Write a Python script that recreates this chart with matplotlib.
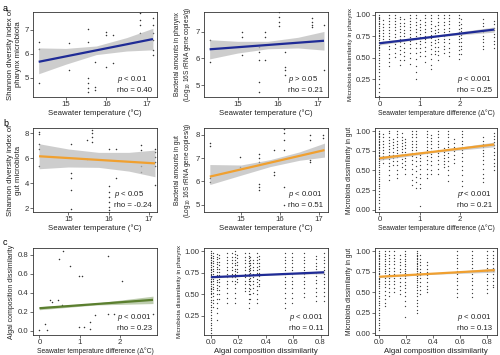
import numpy as np
import matplotlib
matplotlib.use('Agg')
import matplotlib.pyplot as plt

plt.rcParams['font.family'] = ['Liberation Sans', 'DejaVu Sans']
plt.rcParams['mathtext.fontset'] = 'custom'
plt.rcParams['mathtext.rm'] = 'Liberation Sans'
plt.rcParams['mathtext.it'] = 'Liberation Sans:italic'

BLUE = '#1f2b96'
ORANGE = '#f0a030'
GREEN = '#5b7f2f'

# ---- a: pharynx ----
a1_temp = [14.33, 14.33, 14.33, 15.07, 15.07, 15.54, 15.54, 15.54, 15.54, 15.54, 15.54,
           15.72, 15.72, 15.72, 16.0, 16.0, 16.0, 16.17, 16.17, 16.83, 16.83, 16.83, 16.83,
           17.15, 17.15, 17.15, 17.15, 17.15, 17.15]
a1_shannon = [6.51, 6.2, 4.78, 6.44, 5.33, 7.03, 6.51, 4.99, 4.78, 4.57, 4.39,
              5.68, 4.61, 4.5, 6.93, 6.79, 5.47, 6.8, 5.6, 7.7, 7.42, 7.2, 6.86,
              7.49, 7.2, 6.86, 6.58, 6.17, 5.96]
a1_fit_x = [14.33, 17.15]
a1_fit_y = [5.67, 6.62]
a1_band_x = [14.33, 15.0, 15.75, 16.5, 17.15]
a1_band_lo = [5.17, 5.57, 5.97, 6.12, 6.17]
a1_band_hi = [6.25, 6.23, 6.33, 6.68, 7.07]

a2_temp = [14.31, 14.31, 15.1, 15.1, 15.1, 15.53, 15.53, 15.53, 15.53, 15.53, 15.68, 15.68,
           15.68, 16.02, 16.02, 16.02, 16.02, 16.18, 16.18, 16.18, 16.18, 16.85, 16.85, 16.85,
           16.85, 17.15, 17.15]
a2_bact = [6.69, 5.88, 7.0, 6.81, 6.13, 6.44, 6.25, 5.94, 5.13, 4.75, 7.0, 6.81,
           5.94, 7.75, 7.56, 7.38, 7.21, 6.25, 5.69, 5.56, 5.38, 7.5, 7.38, 7.25,
           7.19, 7.25, 5.56]
a2_fit_x = [14.3, 17.15]
a2_fit_y = [6.34, 6.66]
a2_band_x = [14.3, 15.0, 15.75, 16.5, 17.15]
a2_band_lo = [5.98, 6.20, 6.36, 6.39, 6.31]
a2_band_hi = [6.70, 6.64, 6.64, 6.79, 7.01]

a3_diff = [0.0, 0.1, 0.23, 0.39, 0.52, 0.62, 0.77, 0.92, 1.02, 1.14, 1.27, 1.37, 1.45,
           1.6, 1.73, 1.98, 2.03, 2.56, 2.85]
a3_dissim = [
    [1.0, .98, .97, .95, .93, .91, .89, .87, .85, .83, .81, .79, .77, .75, .73, .71, .69, .67,
     .65, .63, .61, .59, .56, .53, .5, .47, .44, .41, .37, .33, .29, .25, .2, .15, .1, .06],
    [.94, .9, .86, .83, .79, .76, .72, .69],
    [1.0, .97, .93, .9, .86, .83, .79, .75, .72, .68, .64, .6, .55, .5, .45, .41],
    [1.0, .96, .93, .89, .86, .82, .78, .74, .7, .66, .61, .56, .51],
    [.98, .95, .91, .87, .84, .8, .76, .72, .68, .64, .59, .54, .48, .42],
    [.95, .91, .87, .83, .79, .75, .71, .67, .62, .57, .52, .47],
    [1.0, .97, .93, .9, .86, .82, .78, .74, .7, .66, .61, .56, .5, .43],
    [1.0, .96, .92, .88, .84, .8, .76, .72, .67, .62, .56, .49, .41, .33, .25],
    [.94, .9, .86, .82, .78, .74, .7, .66, .62, .57, .52],
    [1.0, .96, .92, .88, .84, .8, .76, .72, .68, .63, .58, .52, .45],
    [1.0, .97, .93, .89, .85, .81, .77, .73, .69, .65, .6, .55, .49, .42, .37],
    [.87, .83, .79, .75, .71, .67, .63, .58, .54],
    [1.0, .96, .92, .88, .84, .8, .76, .72, .68, .63, .58, .53, .48],
    [1.0, .96, .92, .88, .84, .8, .76, .72, .68, .64, .6, .56],
    [1.0, .96, .93, .89, .85, .81, .77, .72, .67, .62, .57, .52],
    [1.0, .96, .92, .88, .84, .8, .76, .72, .68, .64, .59, .54, .49],
    [.95, .9, .85, .81, .77, .73, .69, .64, .6, .55],
    [.95, .91, .87, .83, .8, .76, .72, .68, .64, .6],
    [.93, .89, .85, .82, .78, .74, .7, .66, .62],
]
a3_fit_x = [0.0, 2.85]
a3_fit_y = [0.67, 0.83]
a3_band_x = [0.0, 1.4, 2.85]
a3_band_lo = [0.65, 0.745, 0.80]
a3_band_hi = [0.69, 0.765, 0.86]

# ---- b: gut ----
b1_temp = [14.27, 14.27, 14.27, 14.27, 14.27, 15.07, 15.07, 15.07, 15.07, 15.07, 15.45, 15.45,
           15.58, 15.58, 15.58, 15.58, 16.0, 16.0, 16.0, 16.0, 16.0, 16.0, 16.0, 16.17, 16.17,
           16.8, 16.8, 16.8, 16.8, 17.15, 17.15, 17.15, 17.15, 17.15, 17.15]
b1_shannon = [8.14, 7.92, 7.18, 6.77, 5.4, 7.18, 4.85, 4.44, 3.48, 1.97, 7.45, 5.95,
              8.27, 8.0, 7.73, 7.32, 6.77, 3.75, 3.34, 2.93, 2.52, 2.11, 1.84, 6.77, 4.44,
              7.04, 6.63, 5.4, 4.9, 6.77, 6.5, 6.08, 5.67, 5.4, 3.89]
b1_fit_x = [14.27, 17.15]
b1_fit_y = [6.16, 5.59]
b1_band_x = [14.27, 15.0, 15.75, 16.5, 17.15]
b1_band_lo = [5.16, 5.30, 5.27, 4.97, 4.52]
b1_band_hi = [7.16, 6.74, 6.47, 6.47, 6.66]

b2_temp = [14.2, 14.2, 14.2, 14.2, 14.97, 14.97, 15.46, 15.46, 15.46, 15.46, 15.46, 15.46,
           15.85, 15.85, 15.85, 16.1, 16.1, 16.1, 16.1, 16.1, 16.1, 16.77, 16.77, 16.77, 16.77,
           17.1, 17.1]
b2_bact = [7.64, 7.5, 6.12, 5.98, 7.06, 6.63, 7.16, 6.99, 6.85, 5.9, 5.76, 5.62,
           7.35, 6.41, 6.27, 8.25, 8.07, 7.78, 7.35, 5.76, 4.97, 8.0, 7.78, 6.92, 6.85,
           8.0, 7.86]
b2_fit_x = [14.2, 17.15]
b2_fit_y = [6.2, 7.34]
b2_band_x = [14.2, 15.0, 15.75, 16.5, 17.15]
b2_band_lo = [5.86, 6.26, 6.63, 6.90, 7.04]
b2_band_hi = [6.72, 6.70, 6.93, 7.26, 7.64]

b3_diff = [0.0, 0.1, 0.23, 0.33, 0.43, 0.56, 0.64, 0.81, 0.92, 1.0, 1.17, 1.27, 1.45,
           1.6, 1.7, 1.85, 2.05, 2.56, 2.85]
b3_dissim = [
    [1.0, .98, .96, .94, .92, .9, .88, .86, .84, .82, .8, .78, .76, .74, .72, .7, .68, .66, .64,
     .62, .6, .57, .54, .51, .48, .45, .42, .39, .36, .33, .3, .27, .24, .2, .16, .12, .08, .04, .01],
    [.96, .92, .88, .84, .8, .76, .72, .68, .64, .6],
    [1.0, .97, .93, .89, .85, .81, .77, .73, .69, .65, .6, .55, .5, .44, .38],
    [.9, .86, .82, .78, .74, .7, .66, .62, .57],
    [1.0, .96, .92, .88, .84, .8, .76, .72, .67, .62, .57, .51, .45, .4],
    [.97, .93, .89, .85, .81, .77, .73, .69, .64, .59, .54],
    [.9, .86, .82, .78, .74, .7, .66, .62, .57, .52, .46],
    [1.0, .96, .92, .88, .84, .8, .76, .72, .68, .63, .58, .52, .45, .38, .31],
    [1.0, .96, .92, .88, .84, .8, .76, .72, .67, .62, .56, .49, .42, .35, .28],
    [.7, .66, .62, .57, .52, .46, .4, .33, .27, .05],
    [1.0, .96, .92, .88, .84, .8, .76, .72, .68, .63, .58, .52, .46, .4],
    [.95, .91, .87, .83, .79, .75, .71, .67, .62, .57, .51, .45],
    [1.0, .96, .92, .88, .84, .8, .76, .72, .68, .63, .58, .52, .46],
    [.78, .74, .7, .66, .62, .58, .54],
    [1.0, .96, .92, .88, .84, .8, .76, .72, .67, .62, .56, .5, .44, .37],
    [.9, .85, .8, .75, .7, .65, .6],
    [1.0, .96, .92, .88, .84, .8, .76, .72, .67, .62, .56, .5, .44, .37, .3, .23],
    [.92, .88, .84, .8, .76, .72, .68, .63, .58, .52, .46, .4, .35],
    [.98, .94, .9, .86, .82, .78, .74, .7, .65, .6, .55, .5],
]
b3_fit_x = [0.0, 2.85]
b3_fit_y = [0.655, 0.83]
b3_band_x = [0.0, 1.4, 2.85]
b3_band_lo = [0.63, 0.73, 0.80]
b3_band_hi = [0.68, 0.755, 0.86]

# ---- c: algae ----
c1_diff = [0.6, 1.72, 0.77, 2.06, 0.98, 1.06, 0.27, 0.31, 0.47, 0.56, 0.0, 0.18, 0.14,
           0.98, 1.1, 1.25, 1.27, 1.39, 1.7, 1.85, 2.83, 0.5]
c1_algae = [0.835, 0.79, 0.68, 0.525, 0.57, 0.57, 0.32, 0.30, 0.32, 0.27, 0.007, 0.007, 0.07,
            0.04, 0.04, 0.095, 0.015, 0.165, 0.176, 0.176, 0.176, 0.754]
c1_fit_x = [0.0, 2.83]
c1_fit_y = [0.236, 0.324]
c1_band_x = [0.0, 1.4, 2.83]
c1_band_lo = [0.22, 0.27, 0.285]
c1_band_hi = [0.252, 0.29, 0.363]

c2_algae = [0.0, 0.017, 0.042, 0.059, 0.115, 0.152, 0.176, 0.189, 0.25, 0.275, 0.287, 0.304,
            0.336, 0.348, 0.544, 0.593, 0.679, 0.765, 0.826]
c2_dissim = [
    [1.0, .98, .96, .94, .92, .9, .88, .86, .84, .82, .8, .78, .76, .74, .72, .7, .68, .66, .64, .62,
     .6, .58, .56, .54, .52, .5, .47, .44, .41, .38, .35, .32, .29, .26, .23, .2, .17, .14, .11, .08, .05],
    [.98, .95, .92, .89, .86, .83, .8, .77, .74, .71, .68, .65, .62, .59, .56, .52, .48, .44, .4, .35],
    [.97, .94, .91, .88, .85, .82, .79, .76, .73, .7, .67, .64, .61, .58, .55, .5, .45, .4, .34, .28, .2],
    [.96, .92, .88, .84, .8, .76, .72, .68, .64, .6, .55, .5, .45],
    [.98, .94, .9, .86, .82, .78, .74, .7, .66, .62, .57, .52, .46, .4],
    [.98, .94, .9, .86, .82, .78, .74, .7, .66],
    [1.0, .97, .94, .9, .87, .84, .8, .77, .74, .7, .66, .62, .57, .52, .46, .4],
    [.96, .92, .88, .84, .8, .76, .72, .68, .64],
    [.98, .94, .9, .86, .82, .78, .74, .7, .66, .62, .58, .54],
    [.98, .95, .92, .89, .86, .83, .8, .77, .74, .71, .68, .65, .62, .58, .54, .5, .45, .4, .34],
    [.94, .9, .87, .84, .81, .78, .75, .72, .69, .65, .61, .56, .51, .45],
    [.9, .86, .82, .78, .74, .7, .66, .62, .57, .52],
    [.98, .94, .9, .86, .82, .78, .75, .72, .68, .64, .6, .55, .5, .45, .4],
    [.95, .91, .87, .83, .79, .75, .71, .67, .62, .6],
    [.98, .94, .9, .86, .82, .78, .74, .7, .66, .62, .57, .52, .46, .4, .34],
    [.98, .94, .9, .86, .82, .78, .74, .7, .66, .62, .57, .52, .46, .4],
    [.98, .94, .9, .86, .82, .78, .74, .7, .66, .62, .57, .52, .47],
    [.95, .91, .87, .83, .79, .75, .71, .67, .63, .58, .53, .48, .42],
    [.98, .94, .9, .86, .82, .78, .74, .7, .66, .62, .58, .53, .48, .42],
]
c2_fit_x = [0.0, 0.826]
c2_fit_y = [0.70, 0.757]
c2_band_x = [0.0, 0.4, 0.826]
c2_band_lo = [0.69, 0.722, 0.74]
c2_band_hi = [0.71, 0.734, 0.774]

c3_algae = [0.0, 0.042, 0.075, 0.112, 0.154, 0.191, 0.284, 0.304, 0.353, 0.58, 0.69, 0.8, 0.85]
c3_dissim = [
    [1.0, .98, .96, .94, .92, .9, .88, .86, .84, .82, .8, .78, .76, .74, .72, .7, .68, .66, .64, .62,
     .6, .58, .55, .52, .49, .46, .43, .4, .37, .34, .31, .28, .25, .22, .19, .16, .13, .1, .07, .04],
    [1.0, .97, .94, .91, .88, .85, .82, .79, .76, .73, .7, .67, .64, .6, .56, .52, .47, .42, .37, .33],
    [1.0, .96, .92, .88, .84, .8, .76, .72, .68, .64, .6, .55, .5, .45],
    [1.0, .96, .92, .88, .84, .8, .76, .72, .68, .64, .6, .55, .5],
    [.95, .91, .87, .83, .79, .75, .71, .67, .63, .58, .53, .48],
    [1.0, .97, .94, .91, .88, .85, .82, .79, .76, .73, .7, .67, .63, .59, .55, .5, .45, .39, .33, .2],
    [1.0, .98, .96, .94, .92, .9, .88, .86, .84, .82, .8, .78, .76, .74, .72, .7, .68, .65, .62,
     .59, .56, .53, .49, .45, .41, .37, .33, .29, .25],
    [.95, .91, .87, .83, .79, .75, .71, .67, .63, .58, .53, .48],
    [.87, .83, .79, .75, .71, .67, .63, .58, .54, .5],
    [1.0, .96, .92, .88, .84, .8, .76, .72, .68, .64, .59, .54, .49, .44],
    [1.0, .96, .92, .88, .84, .8, .76, .72, .68, .64, .59, .54, .49, .44],
    [1.0, .96, .92, .88, .84, .8, .76, .72, .68, .64, .59, .54, .49],
    [1.0, .96, .92, .88, .84, .8, .76, .72, .68, .64, .59, .56],
]
c3_fit_x = [0.0, 0.86]
c3_fit_y = [0.69, 0.77]
c3_band_x = [0.0, 0.43, 0.86]
c3_band_lo = [0.68, 0.722, 0.745]
c3_band_hi = [0.70, 0.736, 0.795]

# panel positions in pixels (left, right) / (top, bottom)
COLS = [(33, 157), (204, 328), (375, 497)]
ROWS = [(12, 97), (128, 212), (248, 335)]
W, H = 500, 355
FS = 5.6

fig = plt.figure(figsize=(W / 100, H / 100), dpi=100)


def new_ax(col, row):
    l, r = COLS[col]
    t, b = ROWS[row]
    ax = fig.add_axes([l / W, 1 - b / H, (r - l) / W, (b - t) / H])
    for sp in ax.spines.values():
        sp.set_color('#333333')
        sp.set_linewidth(0.6)
    ax.tick_params(length=2, width=0.5, labelsize=FS, colors='#333333', pad=1)
    return ax


def flatten(xs, ys):
    px = [x for x, col in zip(xs, ys) for _ in col]
    py = [v for col in ys for v in col]
    return px, py


def draw(ax, x, y, fit_x, fit_y, band_x, lo, hi, color, band='#bdbdbd', dense=False):
    if dense:
        ax.scatter(x, y, s=0.9, c='black', alpha=0.75, linewidths=0)
    else:
        ax.scatter(x, y, s=1.2, c='black', alpha=0.8, linewidths=0)
    ax.fill_between(band_x, lo, hi, color=band, alpha=0.75, lw=0)
    ax.plot(fit_x, fit_y, color=color, lw=1.6, solid_capstyle='butt')


def stats(ax, txt):
    ax.text(0.96, 0.04, txt, transform=ax.transAxes, ha='right', va='bottom',
            fontsize=FS, multialignment='left', linespacing=1.3, color='#222222')


def labels(ax, xl, yl, xfs=FS, yfs=FS):
    ax.set_xlabel(xl, fontsize=xfs, labelpad=1, color='#222222')
    ax.set_ylabel(yl, fontsize=yfs, labelpad=2, color='#222222', linespacing=1.1)


TEMP = 'Seawater temperature (\u00b0C)'
DIFF = 'Seawater temperature difference (\u0394\u00b0C)'
ALG = 'Algal composition dissimilarity'

# a1
ax = new_ax(0, 0)
draw(ax, a1_temp, a1_shannon, a1_fit_x, a1_fit_y, a1_band_x, a1_band_lo, a1_band_hi, BLUE)
ax.set_xlim(14.19, 17.25); ax.set_ylim(4.2, 7.75)
ax.set_xticks([15, 16, 17]); ax.set_yticks([5, 6, 7])
labels(ax, TEMP, 'Shannon diversity index of\npharynx microbiota')
stats(ax, '$p$ < 0.01\nrho = 0.40')

# a2
ax = new_ax(1, 0)
draw(ax, a2_temp, a2_bact, a2_fit_x, a2_fit_y, a2_band_x, a2_band_lo, a2_band_hi, BLUE)
ax.set_xlim(14.16, 17.25); ax.set_ylim(4.55, 7.74)
ax.set_xticks([15, 16, 17]); ax.set_yticks([5, 6, 7])
labels(ax, TEMP, 'Bacterial amounts in pharynx\n(Log$_{10}$ 16S rRNA gene copies/g)', yfs=4.7)
stats(ax, '$p$ > 0.05\nrho = 0.21')

# a3
ax = new_ax(2, 0)
px, py = flatten(a3_diff, a3_dissim)
draw(ax, px, py, a3_fit_x, a3_fit_y, a3_band_x, a3_band_lo, a3_band_hi, BLUE, dense=True)
ax.set_xlim(-0.11, 2.92); ax.set_ylim(0.043, 1.035)
ax.set_xticks([0, 1, 2]); ax.set_yticks([0.25, 0.5, 0.75, 1.0])
ax.set_yticklabels(['0.25', '0.50', '0.75', '1.00'])
labels(ax, DIFF, 'Microbiota dissimilarity in pharynx', xfs=4.9, yfs=4.5)
stats(ax, '$p$ < 0.001\nrho = 0.25')

# b1
ax = new_ax(0, 1)
draw(ax, b1_temp, b1_shannon, b1_fit_x, b1_fit_y, b1_band_x, b1_band_lo, b1_band_hi, ORANGE)
ax.set_xlim(14.12, 17.2); ax.set_ylim(1.7, 8.42)
ax.set_xticks([15, 16, 17]); ax.set_yticks([2, 4, 6, 8])
labels(ax, TEMP, 'Shannon diversity index of\ngut microbiota')
stats(ax, '$p$ < 0.05\nrho = -0.24')

# b2
ax = new_ax(1, 1)
draw(ax, b2_temp, b2_bact, b2_fit_x, b2_fit_y, b2_band_x, b2_band_lo, b2_band_hi, ORANGE)
ax.set_xlim(14.05, 17.24); ax.set_ylim(4.68, 8.29)
ax.set_xticks([15, 16, 17]); ax.set_yticks([5, 6, 7, 8])
labels(ax, TEMP, 'Bacterial amounts in gut\n(Log$_{10}$ 16S rRNA gene copies/g)', yfs=4.7)
stats(ax, '$p$ < 0.001\nrho = 0.51')

# b3
ax = new_ax(2, 1)
px, py = flatten(b3_diff, b3_dissim)
draw(ax, px, py, b3_fit_x, b3_fit_y, b3_band_x, b3_band_lo, b3_band_hi, ORANGE, dense=True)
ax.set_xlim(-0.11, 2.92); ax.set_ylim(-0.03, 1.04)
ax.set_xticks([0, 1, 2]); ax.set_yticks([0, 0.25, 0.5, 0.75, 1.0])
ax.set_yticklabels(['0.00', '0.25', '0.50', '0.75', '1.00'])
labels(ax, DIFF, 'Microbiota dissimilarity in gut', xfs=4.9, yfs=4.9)
stats(ax, '$p$ < 0.001\nrho = 0.21')

# c1
ax = new_ax(0, 2)
draw(ax, c1_diff, c1_algae, c1_fit_x, c1_fit_y, c1_band_x, c1_band_lo, c1_band_hi, GREEN,
     band='#a9bd95')
ax.set_xlim(-0.16, 2.93); ax.set_ylim(-0.046, 0.87)
ax.set_xticks([0, 1, 2]); ax.set_yticks([0, 0.2, 0.4, 0.6, 0.8])
ax.set_yticklabels(['0.0', '0.2', '0.4', '0.6', '0.8'])
labels(ax, DIFF, ALG, xfs=4.9, yfs=5.0)
stats(ax, '$p$ < 0.001\nrho = 0.23')

# c2
ax = new_ax(1, 2)
px, py = flatten(c2_algae, c2_dissim)
draw(ax, px, py, c2_fit_x, c2_fit_y, c2_band_x, c2_band_lo, c2_band_hi, BLUE, dense=True)
ax.set_xlim(-0.05, 0.854); ax.set_ylim(0.027, 1.04)
ax.set_xticks([0, 0.2, 0.4, 0.6, 0.8]); ax.set_xticklabels(['0.0', '0.2', '0.4', '0.6', '0.8'])
ax.set_yticks([0.25, 0.5, 0.75, 1.0]); ax.set_yticklabels(['0.25', '0.50', '0.75', '1.00'])
labels(ax, ALG, 'Microbiota dissimilarity in pharynx', yfs=4.5)
stats(ax, '$p$ < 0.001\nrho = 0.11')

# c3
ax = new_ax(2, 2)
px, py = flatten(c3_algae, c3_dissim)
draw(ax, px, py, c3_fit_x, c3_fit_y, c3_band_x, c3_band_lo, c3_band_hi, ORANGE, dense=True)
ax.set_xlim(-0.032, 0.877); ax.set_ylim(-0.02, 1.04)
ax.set_xticks([0, 0.2, 0.4, 0.6, 0.8]); ax.set_xticklabels(['0.0', '0.2', '0.4', '0.6', '0.8'])
ax.set_yticks([0, 0.25, 0.5, 0.75, 1.0])
ax.set_yticklabels(['0.00', '0.25', '0.50', '0.75', '1.00'])
labels(ax, ALG, 'Microbiota dissimilarity in gut', yfs=4.9)
stats(ax, '$p$ < 0.001\nrho = 0.13')

# panel letters
for letter, ypx in [('a', 4), ('b', 119), ('c', 238)]:
    fig.text(3 / W, 1 - ypx / H, letter, fontsize=6.5, va='top', ha='left')

fig.savefig('out.png', dpi=100, facecolor='white')
